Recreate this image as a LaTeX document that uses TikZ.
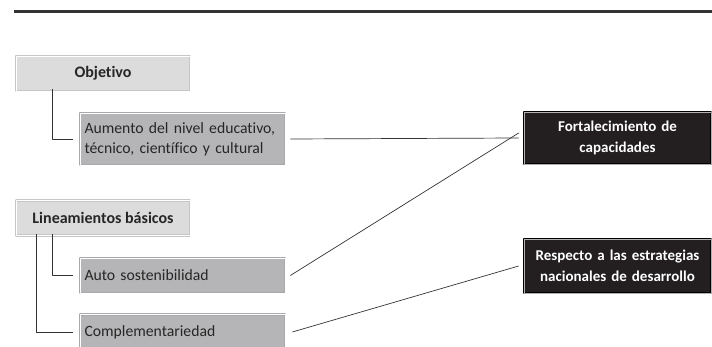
\documentclass[tikz,border=0pt]{standalone}
\usepackage{fontspec}
\setmainfont[RawFeature=-liga]{Carlito}
\usetikzlibrary{positioning}
\definecolor{lightfill}{HTML}{DCDCDD}
\definecolor{lightedge}{HTML}{C6C6C8}
\definecolor{midfill}{HTML}{B5B5B7}
\definecolor{midedge}{HTML}{A9A9AB}
\definecolor{darkfill}{HTML}{231F20}
\definecolor{linegray}{HTML}{333333}
\begin{document}
\begin{tikzpicture}[x=1pt,y=-1pt,line join=round,
	headbox/.style={draw=lightedge,fill=lightfill,double=white,double distance=0.8pt,line width=0.7pt,
		minimum width=174pt,minimum height=35pt,inner sep=0pt,font=\fontsize{16}{20}\selectfont\bfseries,text=black!85},
	itembox/.style={draw=midedge,fill=midfill,double=white,double distance=0.8pt,line width=0.7pt,
		text width=196pt,inner xsep=4.5pt,inner ysep=0pt,minimum height=35pt,align=left,
		font=\fontsize{15.7}{20}\selectfont,text=black!85},
	goalbox/.style={draw=black,fill=darkfill,double=gray!60,double distance=0.8pt,line width=0.7pt,
		text width=175pt,inner xsep=6pt,inner ysep=0pt,align=center,
		font=\fontsize{15}{21}\selectfont\bfseries,text=white},
	link/.style={draw=linegray,line width=0.7pt}]
	\useasboundingbox (0,0) rectangle (712,347);

	% linea superior
	\coordinate (R1) at (14,11.5);
	\coordinate (R2) at (712,11.5);
	\draw[linegray,line width=3pt] (R1) -- (R2);

	% columna izquierda
	\node[headbox] (obj) at (103,73.5) {Objetivo};
	\node[itembox,minimum height=52pt] (aum) at (182.5,139) {\mbox{Aumento del nivel educativo,}\\\mbox{técnico, científico y cultural}};
	\node[headbox] (lin) at (103,218) {Lineamientos básicos};
	\node[itembox] (auto) at (182.5,275.5) {Auto sostenibilidad};
	\node[itembox] (comp) at (182.5,332) {Complementariedad};

	% columna derecha
	\node[goalbox,minimum height=52pt] (fort) at (617.5,138) {Fortalecimiento de\\capacidades};
	\node[goalbox,minimum height=54pt] (resp) at (617.5,266) {Respecto a las estrategias\\nacionales de desarrollo};

	% ramas
	\draw[link] ([xshift=37pt,yshift=2pt]obj.south west) |- ([xshift=-7pt]aum.west);
	\draw[link] ([xshift=37pt,yshift=2pt]lin.south west) |- ([xshift=-7pt]auto.west);
	\draw[link] ([xshift=21pt,yshift=2pt]lin.south west) |- ([xshift=-7pt]comp.west);

	% conexiones
	\draw[link] ([xshift=5pt]aum.east) -- ([xshift=-5pt]fort.west);
	\draw[link] ([xshift=5pt]auto.east) -- ([xshift=-5pt,yshift=5pt]fort.west);
	\draw[link] ([xshift=7pt]comp.east) -- ([xshift=-5pt]resp.west);
\end{tikzpicture}
\end{document}
